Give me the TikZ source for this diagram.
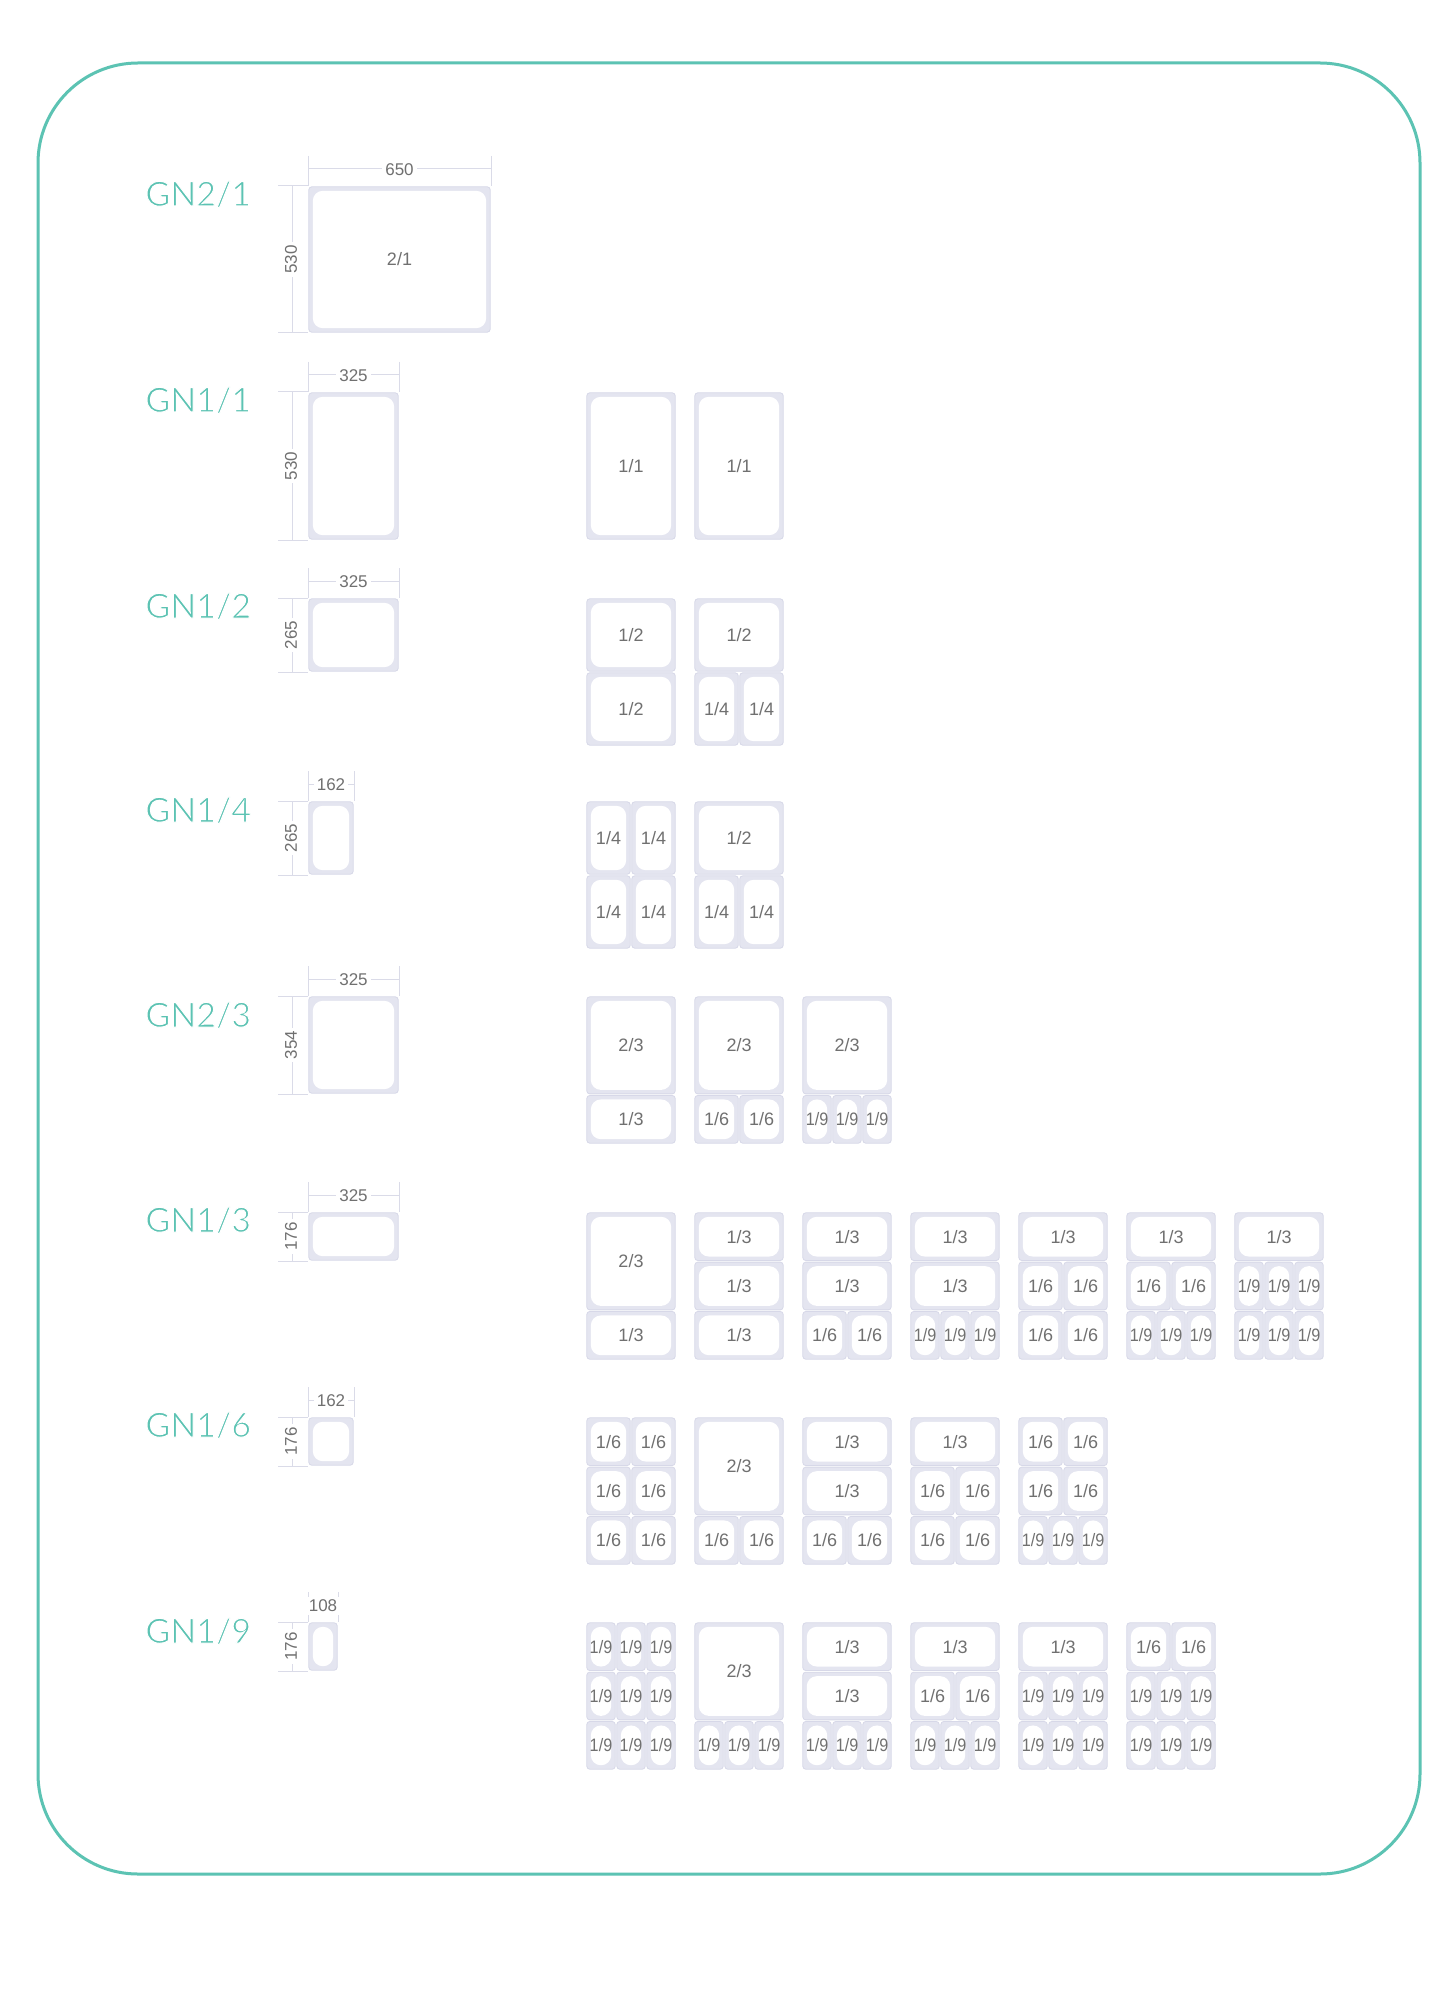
\documentclass[tikz,border=0pt]{standalone}
\usepackage{fontspec}
\usepackage{graphicx}
\setmainfont{Liberation Sans}
\newfontfamily\gnfont{Lato}
\definecolor{gnteal}{HTML}{5CC3B3}
\definecolor{panfill}{HTML}{E4E5F0}
\definecolor{panedge}{HTML}{D7D8E8}
\definecolor{dimcol}{HTML}{DADBE8}
\definecolor{txtgrey}{HTML}{707070}
\newcommand{\thin}[1]{\special{pdf:literal 2 Tr 1 1 1 RG 0.5 w}#1\special{pdf:literal 0 Tr 0.4 w}}
\tikzset{
 panouter/.style={fill=panfill, draw=panedge, line width=0.4pt, rounded corners=1.5pt},
 paninner/.style={fill=white, rounded corners=5pt},
 panlabel/.style={text=txtgrey, font=\fontsize{9}{9}\selectfont, inner sep=0pt},
 dimline/.style={draw=dimcol, line width=0.5pt},
 dimtext/.style={text=txtgrey, font=\fontsize{8.5}{8.5}\selectfont, fill=white, inner sep=1.5pt},
 gnlabel/.style={text=gnteal, font=\gnfont\fontsize{17}{17}\selectfont, anchor=base west, inner sep=0pt},
 frame/.style={draw=gnteal, line width=1.5pt, rounded corners=50pt}
}
\newcommand{\gnpan}[5]{%
 \pgfmathsetmacro{\gxa}{#1+0.8}\pgfmathsetmacro{\gya}{#2+0.8}%
 \pgfmathsetmacro{\gxb}{#1+#3-0.8}\pgfmathsetmacro{\gyb}{#2+#4-0.8}%
 \path[panouter] (\gxa,\gya) rectangle (\gxb,\gyb);%
 \path[paninner] (\gxa+4,\gya+4) rectangle (\gxb-4,\gyb-4);%
 \node[panlabel] at ({(\gxa+\gxb)/2},{(\gya+\gyb)/2}) {#5};%
}
\newcommand{\ninth}{\scalebox{0.9}[1]{1/9}}
\newcommand{\setcol}[2]{\pgfmathsetmacro{\gcx}{586+108*#1}\def\gcy{#2}}
\newcommand{\bone}[3]{\gnpan{\gcx}{\gcy+#1}{90}{#2}{#3}}
\newcommand{\btwo}[3]{\gnpan{\gcx}{\gcy+#1}{45}{#2}{#3}\gnpan{\gcx+45}{\gcy+#1}{45}{#2}{#3}}
\newcommand{\bthree}[2]{\gnpan{\gcx}{\gcy+#1}{30}{#2}{\ninth}\gnpan{\gcx+30}{\gcy+#1}{30}{#2}{\ninth}\gnpan{\gcx+60}{\gcy+#1}{30}{#2}{\ninth}}
\newcommand{\refpan}[6]{%
 \pgfmathsetmacro{\grt}{#1}\pgfmathsetmacro{\grr}{308+#2}\pgfmathsetmacro{\grb}{#1+#3}%
 \draw[dimline] (308,\grt-30) -- (308,\grt) (\grr,\grt-30) -- (\grr,\grt);%
 \draw[dimline] (308,\grt-17) -- (\grr,\grt-17);%
 \node[dimtext] at ({(308+\grr)/2},\grt-16) {#4};%
 \draw[dimline] (278,\grt) -- (308,\grt) (278,\grb) -- (308,\grb);%
 \draw[dimline] (292,\grt) -- (292,\grb);%
 \node[dimtext, rotate=90] at (291,{(\grt+\grb)/2}) {#5};%
 \gnpan{308}{#1}{#2}{#3}{#6}%
}
\begin{document}
\begin{tikzpicture}[x=0.5pt,y=-0.5pt]
\useasboundingbox (0,0) rectangle (1450,2000);
\fill[white] (0,0) rectangle (1450,2000);
\draw[frame] (38,63) rectangle (1420,1874);
% labels
\node[gnlabel] (l1) at (145,206) {\thin{GN2/1}};
\node[gnlabel] (l2) at (145,412) {\thin{GN1/1}};
\node[gnlabel] (l3) at (145,618) {\thin{GN1/2}};
\node[gnlabel] (l4) at (145,822) {\thin{GN1/4}};
\node[gnlabel] (l5) at (145,1027) {\thin{GN2/3}};
\node[gnlabel] (l6) at (145,1232) {\thin{GN1/3}};
\node[gnlabel] (l7) at (145,1437) {\thin{GN1/6}};
\node[gnlabel] (l8) at (145,1643) {\thin{GN1/9}};
% reference pans
\refpan{186}{183}{147}{650}{530}{2/1}
\refpan{392}{91}{148}{325}{530}{}
\refpan{598}{91}{74}{325}{265}{}
\refpan{801}{46}{74}{162}{265}{}
\refpan{996}{91}{98}{325}{354}{}
\refpan{1212}{91}{49}{325}{176}{}
\refpan{1417}{46}{49}{162}{176}{}
\refpan{1622}{30}{49}{108}{176}{}
% GN1/1 row
\setcol{0}{392}\bone{0}{148}{1/1}
\setcol{1}{392}\bone{0}{148}{1/1}
% GN1/2 row
\setcol{0}{598}\bone{0}{74}{1/2}\bone{74}{74}{1/2}
\setcol{1}{598}\bone{0}{74}{1/2}\btwo{74}{74}{1/4}
% GN1/4 row
\setcol{0}{801}\btwo{0}{74}{1/4}\btwo{74}{74}{1/4}
\setcol{1}{801}\bone{0}{74}{1/2}\btwo{74}{74}{1/4}
% GN2/3 row
\setcol{0}{996}\bone{0}{98.67}{2/3}\bone{98.67}{49.33}{1/3}
\setcol{1}{996}\bone{0}{98.67}{2/3}\btwo{98.67}{49.33}{1/6}
\setcol{2}{996}\bone{0}{98.67}{2/3}\bthree{98.67}{49.33}
% GN1/3 row
\setcol{0}{1212}\bone{0}{98.67}{2/3}\bone{98.67}{49.33}{1/3}
\setcol{1}{1212}\bone{0}{49.33}{1/3}\bone{49.33}{49.33}{1/3}\bone{98.67}{49.33}{1/3}
\setcol{2}{1212}\bone{0}{49.33}{1/3}\bone{49.33}{49.33}{1/3}\btwo{98.67}{49.33}{1/6}
\setcol{3}{1212}\bone{0}{49.33}{1/3}\bone{49.33}{49.33}{1/3}\bthree{98.67}{49.33}
\setcol{4}{1212}\bone{0}{49.33}{1/3}\btwo{49.33}{49.33}{1/6}\btwo{98.67}{49.33}{1/6}
\setcol{5}{1212}\bone{0}{49.33}{1/3}\btwo{49.33}{49.33}{1/6}\bthree{98.67}{49.33}
\setcol{6}{1212}\bone{0}{49.33}{1/3}\bthree{49.33}{49.33}\bthree{98.67}{49.33}
% GN1/6 row
\setcol{0}{1417}\btwo{0}{49.33}{1/6}\btwo{49.33}{49.33}{1/6}\btwo{98.67}{49.33}{1/6}
\setcol{1}{1417}\bone{0}{98.67}{2/3}\btwo{98.67}{49.33}{1/6}
\setcol{2}{1417}\bone{0}{49.33}{1/3}\bone{49.33}{49.33}{1/3}\btwo{98.67}{49.33}{1/6}
\setcol{3}{1417}\bone{0}{49.33}{1/3}\btwo{49.33}{49.33}{1/6}\btwo{98.67}{49.33}{1/6}
\setcol{4}{1417}\btwo{0}{49.33}{1/6}\btwo{49.33}{49.33}{1/6}\bthree{98.67}{49.33}
% GN1/9 row
\setcol{0}{1622}\bthree{0}{49.33}\bthree{49.33}{49.33}\bthree{98.67}{49.33}
\setcol{1}{1622}\bone{0}{98.67}{2/3}\bthree{98.67}{49.33}
\setcol{2}{1622}\bone{0}{49.33}{1/3}\bone{49.33}{49.33}{1/3}\bthree{98.67}{49.33}
\setcol{3}{1622}\bone{0}{49.33}{1/3}\btwo{49.33}{49.33}{1/6}\bthree{98.67}{49.33}
\setcol{4}{1622}\bone{0}{49.33}{1/3}\bthree{49.33}{49.33}\bthree{98.67}{49.33}
\setcol{5}{1622}\btwo{0}{49.33}{1/6}\bthree{49.33}{49.33}\bthree{98.67}{49.33}
\end{tikzpicture}
\end{document}
